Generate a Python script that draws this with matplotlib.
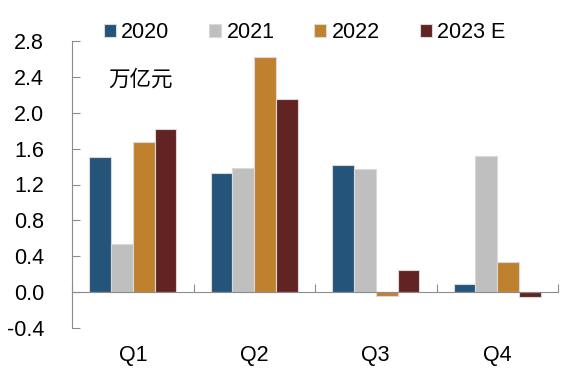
import matplotlib
matplotlib.use("Agg")
import matplotlib.pyplot as plt
import numpy as np

plt.rcParams['font.family'] = ['Liberation Sans', 'Noto Sans CJK SC', 'DejaVu Sans']

categories = ["Q1", "Q2", "Q3", "Q4"]
series_names = ["2020", "2021", "2022", "2023 E"]
v2020 = [1.51, 1.33, 1.42, 0.09]
v2021 = [0.54, 1.38, 1.37, 1.52]
v2022 = [1.67, 2.62, -0.04, 0.34]
v2023 = [1.82, 2.15, 0.25, -0.05]
yticks = [-0.4, 0.0, 0.4, 0.8, 1.2, 1.6, 2.0, 2.4, 2.8]
unit_label = "万亿元"

colors = ["#24547A", "#BFBFBF", "#C0812F", "#622423"]
values = [v2020, v2021, v2022, v2023]
FS = 15.5

fig = plt.figure(figsize=(5.85, 3.77), dpi=100)
ax = fig.add_axes([72/585, 1-328/377, (558-72)/585, (328-41)/377])

x = np.arange(len(categories))
w = 0.18
for i, (name, vals, c) in enumerate(zip(series_names, values, colors)):
    ax.bar(x + (i - 1.5) * w, vals, w, color=c, edgecolor="#D9D9D9", linewidth=0.8,
           label=name, zorder=2)

ax.set_xlim(-0.5, len(categories) - 0.5)
ax.set_ylim(-0.4, 2.8)
ax.set_yticks(yticks)
ax.set_yticklabels([f"{t:.1f}" for t in yticks], fontsize=FS)

for s in ["top", "right"]:
    ax.spines[s].set_visible(False)
ax.spines["bottom"].set_position(("data", 0))
ax.spines["bottom"].set_color("#8C8C8C")
ax.spines["left"].set_color("#8C8C8C")
ax.spines["bottom"].set_zorder(3)

ax.tick_params(axis="y", direction="in", length=6, color="#8C8C8C", pad=20)
ax.set_xticks(np.arange(-0.5, len(categories) + 0.5, 1.0))
ax.set_xticklabels([])
ax.tick_params(axis="x", direction="in", length=6, color="#8C8C8C")

xt = ax.get_xaxis_transform()
for xi, cat in zip(x, categories):
    ax.text(xi, -27/287, cat, transform=xt, ha="center", va="center", fontsize=FS)

ax.text(108/585, 1-80/377, unit_label, transform=fig.transFigure, fontsize=FS,
        ha="left", va="center", family=['Noto Sans CJK SC', 'DejaVu Sans'])

leg = ax.legend(loc="center left", bbox_to_anchor=(104/585, 1-32.5/377),
                bbox_transform=fig.transFigure, ncol=4, frameon=False,
                fontsize=FS, handlelength=0.56, handleheight=0.56,
                handletextpad=0.24, columnspacing=1.85, borderaxespad=0,
                borderpad=0)

fig.savefig("out.png", dpi=100)
